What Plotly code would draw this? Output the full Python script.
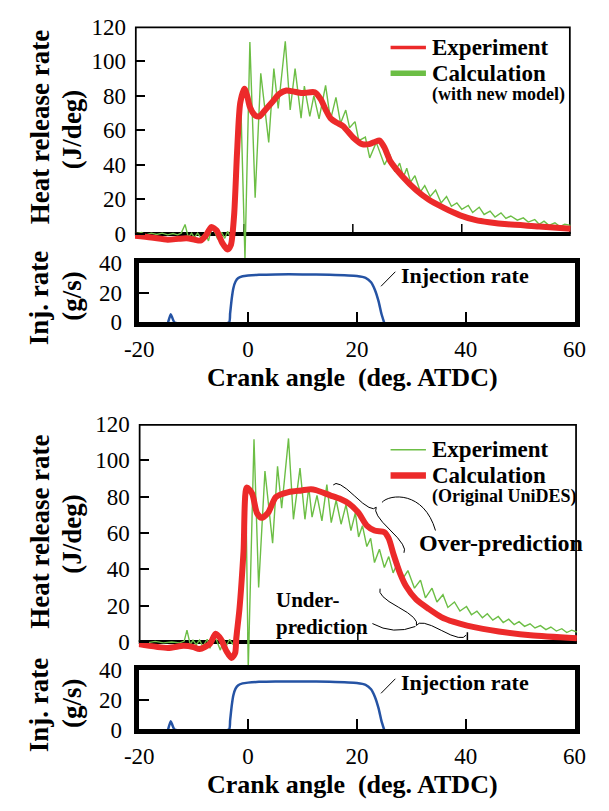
import plotly.graph_objects as go

W, H = 609, 811

# ---------------- data ----------------
x_tick_vals = [-20, 0, 20, 40, 60]
x_tick_text = ["-20", "0", "20", "40", "60"]
hrr_tick_vals = [0, 20, 40, 60, 80, 100, 120]
inj_tick_vals = [0, 20, 40]

# top panel: thick red curve
top_red_x = [-20, -17, -14, -12, -10.5, -9, -8, -7, -6, -5, -4, -3, -2.4, -1.8, -1.24, -0.66,
             0.1, 0.6, 1.1, 2.0, 2.8, 4.0, 5.4, 6.5, 7.8, 9, 10.7, 13, 14.1, 15, 15.9, 17, 18.2,
             20, 21.7, 23, 24.2, 24.9, 25.8, 26.9, 29.2, 31.6, 33.9, 36.8, 38.5, 39.7, 42.6, 45,
             48.4, 54.2, 60]
top_red_y = [-1, -2, -3.3, -2.8, -2.5, -3.3, -3.8, -1, 4, 2, -5, -9, -6.5, 10.6, 48, 76,
             84, 80, 73.5, 68.8, 68, 72, 77, 81, 83, 82.5, 81.5, 82, 78, 72, 67, 64.5, 62.4,
             56, 52, 52, 53.5, 54, 50, 42, 33, 25.5, 20, 15, 12.4, 10.8, 8, 6.8,
             5.6, 4.4, 3]

# top panel: thin green oscillating curve
top_green_x = [-20, -18.8, -18, -17, -16, -15, -14, -13, -12.2, -11.5, -10.8, -10.2, -9.6, -9.1,
               -8.5, -7.7, -7.1, -6.5, -5.9, -5.4, -4.8, -4.1, -3.5, -3.0, -2.6, -2.0, -1.5, -1.0,
               -0.6, 0.2, 1.1, 2.07, 3.1, 4.56, 5.5, 6.3, 7.6, 8.5, 9.4, 10.5, 11.1, 12.1, 12.85,
               13.8, 15, 15.9, 16.9, 17.75, 18.7, 19.4, 20.4, 21.1, 22.3, 23.1, 24.3, 25.8, 26.8,
               27.7, 28.6, 29.3, 29.9, 30.6, 31.4, 32.4, 33.2, 34.2, 35.2, 36.2, 37.2, 38.1, 39.1,
               40.0, 41.2, 42.0, 43.2, 44.1, 45.2, 46.1, 47.2, 48.1, 49.0, 50.2, 51.3, 52.2, 53.4,
               54.2, 55.1, 56.0, 57.1, 58.0, 58.9, 60]
top_green_y = [0, 0.8, -0.5, 0.5, -0.3, 0.5, -0.5, 0.3, -0.5, 0.5, 5.5, -2, 0.5, -2,
               0.5, -3, 1, -4, 3.5, 1.5, -3, 1, -2.5, 1.5, -1, 0, 12, 45,
               80, -14.5, 111, 21, 93, 53, 95.7, 72.6, 111.5, 71.7, 95.7, 67, 85.6, 68, 80,
               66.6, 86, 66, 79, 64, 71.7, 61.5, 65, 54, 56, 44, 53, 40, 46,
               36, 41, 33, 38, 30, 33.7, 24.4, 28, 21.7, 25.4, 18, 21.7, 16, 18,
               14.3, 16.5, 12.4, 15.5, 11.3, 13.2, 9.8, 12.2, 9, 10.4, 8, 9.3, 6.9, 8.3,
               5.6, 7.4, 5, 6.5, 4.3, 5.6, 5]

# bottom panel: thick red curve
bot_red_x = [-20, -14.7, -11.8, -10, -8.9, -7.0, -5.96, -5.0, -4.0, -3.06, -2.4, -2.2, -1.62,
             -0.87, -0.28, 0.7, 1.57, 2.44, 3.6, 5.04, 7.34, 9.74, 11.44, 12.34, 14.94, 16.64,
             18.44, 20.14, 21.64, 23.04, 24.84, 25.64, 26.54, 27.74, 28.84, 30.64, 32.94, 35.24,
             37.54, 39.94, 42.84, 45.74, 51.54, 60]
bot_red_y = [-1.2, -3.3, -2.1, -2.8, -3.9, -1, 4.5, 1.5, -5, -8.8, -6, 2, 18,
             50, 85, 81.6, 71, 68.3, 71, 79.8, 82.5, 83.4, 84, 83.6, 80.7, 78.9,
             76, 71, 64, 61.3, 60.4, 56.9, 48, 37.5, 30.5, 23.4, 18.2, 13.7,
             11, 9, 7.2, 5.8, 3.7, 2]

# bottom panel: thin green oscillating curve
bot_green_x = [-20, -18.5, -17, -15.5, -14, -12.5, -11.7, -11.2, -10.6, -10.1, -9.5, -8.9, -8.3,
               -7.5, -7.0, -6.4, -5.8, -5.1, -4.5, -4.0, -3.4, -2.9, -2.4, -1.8, -1.16, -0.46,
               -0.01, 1.04, 1.89, 3.04, 4.44, 5.34, 6.09, 7.34, 8.24, 9.44, 10.34, 11.04, 11.64,
               12.54, 13.44, 14.34, 15.14, 16.04, 16.94, 17.84, 18.74, 19.54, 20.14, 20.84, 21.64,
               22.34, 23.04, 23.94, 24.84, 25.64, 26.44, 27.34, 28.24, 29.14, 30.34, 31.44, 32.34,
               33.54, 34.44, 35.54, 36.44, 37.64, 38.64, 39.84, 40.74, 41.74, 42.74, 43.64, 44.64,
               45.64, 46.54, 47.54, 48.54, 49.44, 50.44, 51.44, 52.34, 53.34, 54.34, 55.24, 56.24,
               57.24, 58.14, 59.04, 60]
bot_green_y = [0.3, -0.5, 0.3, -0.5, 0, -0.5, 0.5, 6.5, -1.5, 1, -1.5, 1, -2.5,
               1.5, -3.5, 3, 1, -4.5, 1.5, -2, 1.5, -1, 0.5, 1, 40, 85,
               -14.7, 111.5, 30, 94, 54.3, 96.6, 73.6, 112, 67.5, 95.7, 67.5, 85, 68.7,
               80.7, 66.6, 86.6, 65.7, 78, 64.8, 75.5, 61.3, 71, 57.8, 64, 52.5,
               57, 43.7, 51, 41, 47, 38, 44, 35, 39.3, 29.6, 34, 24.3,
               29.6, 22, 26, 19, 22, 17, 19.5, 15, 17, 13.3, 15.5, 12,
               14, 10.7, 12.5, 9.6, 11.2, 8.6, 10, 7.7, 9, 6.8, 8.2, 6,
               7.3, 5.2, 6.5, 5.5]

# injection rate (same in both injection panels)
inj_x = [-14.7, -14.2, -13.5, -3.5, -3.3, -3.0, -2.7, -2.3, -1.8, -1.0, 0, 2, 5, 10, 15, 20,
         21.6, 22.6, 23.3, 24.0, 24.5, 25.0]
inj_y = [0, 5.5, 0, 0, 6, 16, 23, 27.5, 29.8, 31, 31.5, 32, 32.3, 32.3, 32, 31.2,
         30, 27, 22, 14, 6, 0]

# ---------------- styling ----------------
RED = "#EC2A2A"
GREEN = "#6CBE45"
BLUE = "#2553A4"
FONT = "'Liberation Serif', 'Times New Roman', Times, 'DejaVu Serif', serif"


def PX(x):
    return x / W


def PY(y):
    return 1 - y / H


fig = go.Figure()

# top group
fig.add_trace(go.Scatter(x=top_green_x, y=top_green_y, xaxis="x", yaxis="y", mode="lines",
                         line=dict(color=GREEN, width=1.4)))
fig.add_trace(go.Scatter(x=top_red_x, y=top_red_y, xaxis="x", yaxis="y", mode="lines",
                         line=dict(color=RED, width=6, shape="spline", smoothing=0.7)))
fig.add_trace(go.Scatter(x=inj_x, y=inj_y, xaxis="x2", yaxis="y2", mode="lines",
                         line=dict(color=BLUE, width=2.5, shape="spline", smoothing=0.5)))
# bottom group
fig.add_trace(go.Scatter(x=bot_green_x, y=bot_green_y, xaxis="x3", yaxis="y3", mode="lines",
                         line=dict(color=GREEN, width=1.4)))
fig.add_trace(go.Scatter(x=bot_red_x, y=bot_red_y, xaxis="x3", yaxis="y3", mode="lines",
                         line=dict(color=RED, width=6, shape="spline", smoothing=0.7)))
fig.add_trace(go.Scatter(x=inj_x, y=inj_y, xaxis="x4", yaxis="y4", mode="lines",
                         line=dict(color=BLUE, width=2.5, shape="spline", smoothing=0.5)))

tickfont = dict(family=FONT, size=23, color="black")

hrr_x_common = dict(range=[-20, 60], showgrid=False, zeroline=False, showticklabels=False,
                    ticks="", showline=False)
hrr_y_common = dict(tickvals=hrr_tick_vals, ticks="inside", ticklen=10, tickwidth=2,
                    tickcolor="black", showgrid=False, zeroline=False, showline=False,
                    tickfont=tickfont, ticklabelstandoff=8)
inj_x_common = dict(range=[-20, 60], tickvals=x_tick_vals, ticktext=x_tick_text,
                    ticks="inside", ticklen=11, tickwidth=1.5, tickcolor="black",
                    showline=True, mirror=True, linewidth=4.5, linecolor="black",
                    showgrid=False, zeroline=False, tickfont=tickfont, ticklabelstandoff=2)
inj_y_common = dict(range=[0, 40], tickvals=inj_tick_vals, ticks="inside", ticklen=10,
                    tickwidth=1.5, tickcolor="black", showline=True, mirror=True,
                    linewidth=4.5, linecolor="black", showgrid=False, zeroline=False,
                    tickfont=tickfont, ticklabelstandoff=8)

fig.update_layout(
    width=W, height=H, margin=dict(l=0, r=0, t=0, b=0),
    font=dict(family=FONT, color="black"),
    paper_bgcolor="white", plot_bgcolor="rgba(0,0,0,0)", showlegend=False,
    xaxis=dict(domain=[PX(125.5), PX(581.5)], anchor="y", **hrr_x_common),
    yaxis=dict(domain=[PY(256.7), PY(15)], anchor="x", range=[-15.5, 120], **hrr_y_common),
    xaxis2=dict(domain=[PX(130), PX(585.5)], anchor="y2", **inj_x_common),
    yaxis2=dict(domain=[PY(320.3), PY(258.9)], anchor="x2", **inj_y_common),
    xaxis3=dict(domain=[PX(129.5), PX(588)], anchor="y3", **hrr_x_common),
    yaxis3=dict(domain=[PY(676.7), PY(425)], anchor="x3", range=[-14.24, 120], **hrr_y_common),
    xaxis4=dict(domain=[PX(130), PX(585.5)], anchor="y4", **inj_x_common),
    yaxis4=dict(domain=[PY(740.3), PY(678.9)], anchor="x4", **inj_y_common),
)

shapes = []
# heat release boxes (left, top, right borders) + thick zero line + small ticks on zero line
for xr, yr, tl in (("x", "y", 5.8), ("x3", "y3", 5.4)):
    shapes.append(dict(type="path", xref=xr, yref=yr, layer="below",
                       path="M -20,0 L -20,120 L 60,120 L 60,0",
                       line=dict(color="black", width=3.5)))
    shapes.append(dict(type="line", xref=xr, yref=yr, layer="below", x0=-20.3, x1=60.3, y0=0, y1=0,
                       line=dict(color="black", width=4)))
    for tv in (0, 20, 40):
        shapes.append(dict(type="line", xref=xr, yref=yr, layer="below", x0=tv, x1=tv, y0=0, y1=tl,
                           line=dict(color="black", width=1.5)))


def seg(x0, y0, x1, y1, color="black", width=1.0):
    return dict(type="line", xref="paper", yref="paper", x0=PX(x0), y0=PY(y0),
                x1=PX(x1), y1=PY(y1), line=dict(color=color, width=width))


def pt(x, y):
    return f"{PX(x):.5f},{PY(y):.5f}"


def brace(p0, p1, tip):
    (x0, y0), (x1, y1), (tx, ty) = p0, p1, tip
    L = ((x1 - x0) ** 2 + (y1 - y0) ** 2) ** 0.5
    ux, uy = (x1 - x0) / L, (y1 - y0) / L
    mx, my = (x0 + x1) / 2, (y0 + y1) / 2
    dn = ((tx - mx) ** 2 + (ty - my) ** 2) ** 0.5
    nx, ny = (tx - mx) / dn, (ty - my) / dn
    d = dn / 2

    def P(t, off):
        return pt(x0 + ux * L * t + nx * off, y0 + uy * L * t + ny * off)

    path = (f"M {P(0, 0)} Q {P(0, d)} {P(0.25, d)} Q {P(0.5, d)} {P(0.5, 2 * d)} "
            f"Q {P(0.5, d)} {P(0.75, d)} Q {P(1, d)} {P(1, 0)}")
    return dict(type="path", xref="paper", yref="paper", path=path,
                line=dict(color="black", width=1))


# legends
shapes += [seg(393, 36.7, 430, 36.7, RED, 3.5), seg(393, 63.3, 430, 63.3, GREEN, 5.5),
           seg(393, 451.7, 430, 451.7, GREEN, 1.6), seg(393, 478.3, 430, 478.3, RED, 6.5)]
# injection rate leaders
shapes += [seg(383, 283, 398, 268), seg(383, 703, 398, 688)]
# braces and leader curves in the bottom panel
shapes.append(brace((333, 488), (407, 558), (378, 511)))
shapes.append(dict(type="path", xref="paper", yref="paper",
                   path=f"M {pt(384, 506)} C {pt(392, 497)} {pt(428, 494)} {pt(440, 535)}",
                   line=dict(color="black", width=1)))
shapes.append(brace((382, 595), (472, 643), (420, 633)))
shapes.append(dict(type="path", xref="paper", yref="paper",
                   path=f"M {pt(374, 631)} Q {pt(396, 643)} {pt(419, 634)}",
                   line=dict(color="black", width=1)))

fig.update_layout(shapes=shapes)

ann = []


def text(x, y, s, size, xanchor="left", angle=0, bold=True):
    ann.append(dict(xref="paper", yref="paper", x=PX(x), y=PY(y), text=(f"<b>{s}</b>" if bold else s),
                    showarrow=False, xanchor=xanchor, yanchor="middle", textangle=angle, align="left",
                    font=dict(family=FONT, size=size, color="black")))


for dy, ib in ((0, 0), (417.5, 420)):
    text(26, 119 + dy, "Heat release rate", 27, "center", -90)
    text(59.5, 121 + dy, "(J/deg)", 27, "center", -90)
    text(26, 295.5 + ib, "Inj. rate", 27, "center", -90)
    text(59.5, 293 + ib, "(g/s)", 27, "center", -90)
    text(353.5, 376.7 + ib, "Crank angle&nbsp; (deg. ATDC)", 26, "center")
    text(402, 272 + ib, "Injection rate", 22)

text(434, 36.7, "Experiment", 23)
text(434, 63.3, "Calculation", 23)
text(434, 85, "(with new model)", 18)
text(434, 451.7, "Experiment", 23)
text(434, 478.3, "Calculation", 23)
text(434, 500, "(Original UniDES)", 18)
text(421, 548.3, "Over-prediction", 24)
text(271.5, 621, "Under-<br>prediction", 21)

fig.update_layout(annotations=ann)

fig.write_html("out.html")
